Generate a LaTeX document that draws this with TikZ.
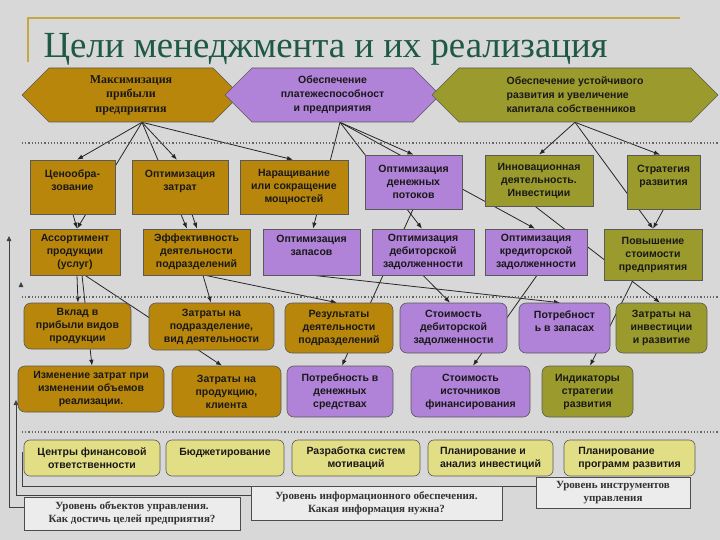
\documentclass[tikz,border=0pt]{standalone}
\usepackage{fontspec}
\setmainfont{Liberation Sans}
\newfontfamily\serfont{Liberation Serif}
\usepackage{tikz}
\usetikzlibrary{arrows.meta, positioning, shapes.symbols}

\definecolor{bggray}{RGB}{216,216,216}
\definecolor{goldbrown}{RGB}{184,134,11}
\definecolor{lilac}{RGB}{176,130,216}
\definecolor{olivegreen}{RGB}{155,155,45}
\definecolor{paleyellow}{RGB}{226,222,134}
\definecolor{titlegreen}{RGB}{30,88,70}
\definecolor{goldline}{RGB}{196,168,70}
\definecolor{labelgray}{RGB}{236,236,236}

\pgfdeclarelayer{background}
\pgfdeclarelayer{lines}
\pgfsetlayers{background,lines,main}

\begin{document}
\begin{tikzpicture}[x=1pt, y=-1pt,
  box/.style={draw=black!65, line width=0.6pt, align=center, inner sep=2pt,
              font=\bfseries\fontsize{10.5}{13}\selectfont, text=black!90},
  goal/.style={signal, signal to=west and east, signal pointer angle=90,
               draw=black!65, line width=0.6pt, align=center, inner sep=0pt,
               minimum height=54pt, text=black!90,
               font=\bfseries\fontsize{10.5}{14}\selectfont},
  rbox/.style={box, rounded corners=7pt},
  tool/.style={box, rounded corners=6pt, fill=paleyellow, minimum height=36pt},
  level/.style={draw=black!70, fill=labelgray, line width=0.8pt, align=center,
                font=\serfont\bfseries\fontsize{11}{13}\selectfont, text=black!80},
  arrow/.style={-{Latex[length=6pt,width=4.5pt]}, line width=0.8pt, black!85},
  sep/.style={dotted, line width=1.2pt, black!60},
  brk/.style={line width=0.8pt, black!75},
  brktip/.style={brk, -{Triangle[length=5pt,width=4.5pt]}}
]
  \useasboundingbox (0,0) rectangle (720,540);
  \begin{pgfonlayer}{background}
    \fill[bggray] (0,0) rectangle (720,540);
  \end{pgfonlayer}

  % title
  \draw[goldline, line width=1.2pt] (28,62) -- (28,18) -- (680,18);
  \node[font=\serfont\fontsize{36.8}{40}\selectfont, text=titlegreen, anchor=base west]
    (title) at (40,58) {Цели менеджмента и их реализация};

  % goals
  \node[goal, fill=goldbrown, minimum width=218pt, font=\serfont\bfseries\fontsize{12}{14.5}\selectfont]
    (goalprof) at (131,95) {Максимизация\\прибыли\\предприятия};
  \node[goal, fill=lilac, minimum width=215pt] (goalpay) at (332.5,95)
    {Обеспечение\\платежеспособност\\и предприятия};
  \node[goal, fill=olivegreen, minimum width=286pt, align=left] (goaldev) at (575,95)
    {Обеспечение устойчивого\\развития и увеличение\\капитала собственников};

  % separators
  \draw[sep] (22,143) -- (718,143);
  \draw[sep] (22,297) -- (718,297);
  \draw[sep] (22,432) -- (718,432);

  % first row
  \node[box, fill=goldbrown, minimum width=85pt, minimum height=54pt] (cena) at (72.5,187)
    {Ценообра-\\зование\\~};
  \node[box, fill=goldbrown, minimum width=96pt, minimum height=54pt] (optz) at (180,187)
    {Оптимизация\\затрат\\~};
  \node[box, fill=goldbrown, minimum width=108pt, minimum height=54pt] (narash) at (294,187)
    {Наращивание\\или  сокращение\\мощностей};
  \node[box, fill=lilac, minimum width=97pt, minimum height=54pt] (dpot) at (413.5,182)
    {Оптимизация\\денежных\\потоков};
  \node[box, fill=olivegreen, minimum width=108pt, minimum height=51pt] (innov) at (539,180.5)
    {Инновационная\\деятельность.\\Инвестиции};
  \node[box, fill=olivegreen, minimum width=73pt, minimum height=54pt] (strat) at (663.5,182)
    {Стратегия\\развития\\~};

  % second row
  \node[box, fill=goldbrown, minimum width=90pt, minimum height=46pt] (assort) at (75,252)
    {Ассортимент\\продукции\\(услуг)};
  \node[box, fill=goldbrown, minimum width=107pt, minimum height=46pt] (effekt) at (196.5,252)
    {Эффективность\\деятельности\\подразделений};
  \node[box, fill=lilac, minimum width=97pt, minimum height=46pt] (zapas) at (311.5,252)
    {Оптимизация\\запасов\\~};
  \node[box, fill=lilac, minimum width=102pt, minimum height=46pt] (debit) at (423,252)
    {Оптимизация\\дебиторской\\задолженности};
  \node[box, fill=lilac, minimum width=102pt, minimum height=46pt] (kredit) at (536,252)
    {Оптимизация\\кредиторской\\задолженности};
  \node[box, fill=olivegreen, minimum width=98pt, minimum height=51pt] (povysh) at (653,254.5)
    {Повышение\\стоимости\\предприятия};

  % third row
  \node[rbox, fill=goldbrown, minimum width=107pt, minimum height=46pt] (vklad) at (77.5,326)
    {Вклад в\\прибыли видов\\продукции};
  \node[rbox, fill=goldbrown, minimum width=125pt, minimum height=47pt] (zatpod) at (211.5,326.5)
    {Затраты на\\подразделение,\\вид деятельности};
  \node[rbox, fill=goldbrown, minimum width=108pt, minimum height=50pt] (rezult) at (339,328)
    {Результаты\\деятельности\\подразделений};
  \node[rbox, fill=lilac, minimum width=107pt, minimum height=50pt] (stdeb) at (453.5,328)
    {Стоимость\\дебиторской\\задолженности};
  \node[rbox, fill=lilac, minimum width=91pt, minimum height=50pt] (potzap) at (564.5,328)
    {Потребност\\ь в запасах\\~};
  \node[rbox, fill=olivegreen, minimum width=91pt, minimum height=50pt] (zatinv) at (661.5,328)
    {Затраты на\\инвестиции\\и развитие};

  % fourth row
  \node[rbox, fill=goldbrown, minimum width=146pt, minimum height=46pt] (izmen) at (91,389)
    {Изменение затрат при\\изменении объемов\\реализации.};
  \node[rbox, fill=goldbrown, minimum width=109pt, minimum height=51pt] (zatprod) at (226.5,391.5)
    {Затраты на\\продукцию,\\клиента};
  \node[rbox, fill=lilac, minimum width=106pt, minimum height=51pt] (potden) at (340,391.5)
    {Потребность в\\денежных\\средствах};
  \node[rbox, fill=lilac, minimum width=119pt, minimum height=51pt] (stist) at (470.5,391.5)
    {Стоимость\\источников\\финансирования};
  \node[rbox, fill=olivegreen, minimum width=91pt, minimum height=51pt] (indik) at (587.5,391.5)
    {Индикаторы\\стратегии\\развития};

  % tools
  \node[tool, minimum width=136pt] (centry) at (92,458) {Центры финансовой\\ответственности};
  \node[tool, minimum width=118pt] (budget) at (225,458) {Бюджетирование\\~};
  \node[tool, minimum width=128pt] (motiv) at (356,458) {Разработка систем\\мотиваций};
  \node[tool, minimum width=125pt, align=left] (planinv) at (490.5,458)
    {Планирование  и\\анализ инвестиций};
  \node[tool, minimum width=131pt, align=left] (planprog) at (629.5,458)
    {Планирование\\программ развития};

  % levels
  \node[level, minimum width=216pt, minimum height=33pt] (lvlobj) at (132,513.5)
    {Уровень объектов управления.\\Как  достичь целей предприятия?};
  \node[level, minimum width=251pt, minimum height=34pt] (lvlinf) at (376.5,503)
    {Уровень информационного обеспечения.\\Какая информация нужна?};
  \node[level, minimum width=154pt, minimum height=31pt] (lvlins) at (613,492.5)
    {Уровень инструментов\\управления};

  \coordinate (tipobj) at (9,236);
  \coordinate (tipmid) at (21,282);
  \coordinate (tipinf) at (16,400);
  \coordinate (cornins) at (22,452);

  \begin{pgfonlayer}{lines}
    % brackets
    \draw[brktip] ([yshift=6pt]lvlobj.west) -| (tipobj);
    \draw[brktip] ([yshift=8pt]lvlinf.west) -| (tipinf);
    \draw[brk] ([yshift=6.5pt]lvlins.west) -| (cornins);
    \draw[brktip] ([yshift=-3pt]tipmid) -- (tipmid);

    % goals to first rows
    \draw[arrow] ([xshift=11pt]goalprof.south) -- ([xshift=4.5pt]cena.north);
    \draw[arrow] ([xshift=11pt]goalprof.south) -- ([xshift=2pt]assort.north);
    \draw[arrow] ([xshift=11pt]goalprof.south) -- ([xshift=-3pt]optz.north);
    \draw[arrow] ([xshift=11pt]goalprof.south) -- ([xshift=-9.5pt]effekt.north);
    \draw[arrow] ([xshift=11pt]goalprof.south) -- ([xshift=-1pt]narash.north);
    \draw[arrow] ([xshift=7.5pt]goalpay.south) -- ([xshift=1.5pt]zapas.north);
    \draw[arrow] ([xshift=7.5pt]goalpay.south) -- (dpot.north);
    \draw[arrow] ([xshift=7.5pt]goalpay.south) -- ([xshift=-1pt]debit.north);
    \draw[arrow] ([xshift=7.5pt]goalpay.south) -- ([xshift=-1pt]kredit.north);
    \draw[arrow] (goaldev.south) -- (innov.north);
    \draw[arrow] (goaldev.south) -- ([xshift=-3.5pt]strat.north);
    \draw[arrow] (goaldev.south) -- (povysh.north);

    % first row to second row
    \draw[arrow] ([xshift=0.5pt]cena.south) -- ([xshift=2pt]assort.north);
    \draw[arrow] ([xshift=12pt]optz.south) -- ([xshift=0.5pt]effekt.north);
    \draw[arrow] (strat.south) -- (povysh.north);

    % second row to lower rows
    \draw[arrow] ([xshift=2pt]assort.south) -- ([xshift=0.5pt]vklad.north);
    \draw[arrow] ([xshift=7pt]assort.south) -- ([xshift=1pt]izmen.north);
    \draw[arrow] ([xshift=10pt]assort.south) -- ([xshift=-4.5pt]zatprod.north);
    \draw[arrow] ([xshift=6.5pt]effekt.south) -- ([xshift=-0.5pt]zatpod.north);
    \draw[arrow] ([xshift=8.5pt]effekt.south) -- ([xshift=-2pt]rezult.north);
    \draw[arrow] ([xshift=1.5pt]zapas.south) -- ([xshift=-4.5pt]potzap.north);
    \draw[arrow] ([xshift=-0.5pt]dpot.south) -- ([xshift=2pt]potden.north);
    \draw[arrow] (debit.south) -- ([xshift=-3.5pt]stdeb.north);
    \draw[arrow] ([xshift=1pt]kredit.south) -- ([xshift=2.5pt]stist.north);
    \draw[arrow] ([xshift=-4pt]innov.south) -- ([xshift=-1.5pt]zatinv.north);
    \draw[arrow] ([xshift=-20pt]povysh.south) -- ([xshift=2.5pt]indik.north);
  \end{pgfonlayer}
\end{tikzpicture}
\end{document}
